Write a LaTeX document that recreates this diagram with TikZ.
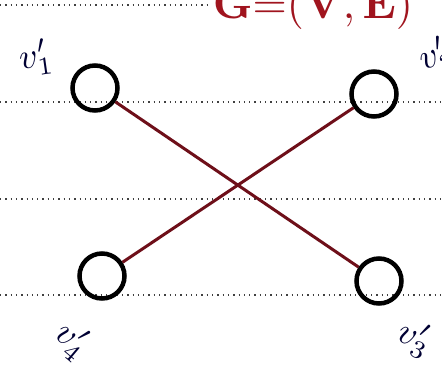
\documentclass[tikz,border=0pt]{standalone}
\usepackage{fix-cm}
\begin{document}
\begin{tikzpicture}[x=1pt,y=-1pt,
  vtx/.style={circle,draw=black,line width=4.5pt,minimum size=45pt,inner sep=0pt},
  edge/.style={draw={rgb,255:red,110;green,15;blue,25},line width=3pt},
  rule/.style={draw=black!75,line width=1.4pt,dash pattern=on 1.3pt off 4pt},
  lbl/.style={scale=3.6,inner sep=0pt,text=black!80!blue}]
\useasboundingbox (0,0) rectangle (442,370);
\clip (0,0) rectangle (442,370);
\fill[white] (0,0) rectangle (442,370);
% ruled paper lines
\draw[rule] (0,5) -- (208,5);
\draw[rule] (0,102) -- (442,102);
\draw[rule] (0,199) -- (442,199);
\draw[rule] (0,295) -- (442,295);
% title
\node[anchor=base west,text={rgb,255:red,160;green,20;blue,30},scale=4.4,inner sep=0pt] (title) at (212,18) {$\mathbf{G{=}(V,E)}$};
% vertices
\node[vtx] (v1) at (95,88) {};
\node[vtx] (v2) at (374,94) {};
\node[vtx] (v4) at (102,276) {};
\node[vtx] (v3) at (379,281) {};
% edges
\draw[edge] (v1) -- (v3);
\draw[edge] (v4) -- (v2);
% labels
\node[lbl,rotate=8] (l1) at (36,58) {$v_1'$};
\node[lbl,rotate=20] (l2) at (436,56) {$v_2'$};
\node[lbl,rotate=-40] (l4) at (72,340) {$v_4'$};
\node[lbl,rotate=-25] (l3) at (415,338) {$v_3'$};
\end{tikzpicture}
\end{document}
